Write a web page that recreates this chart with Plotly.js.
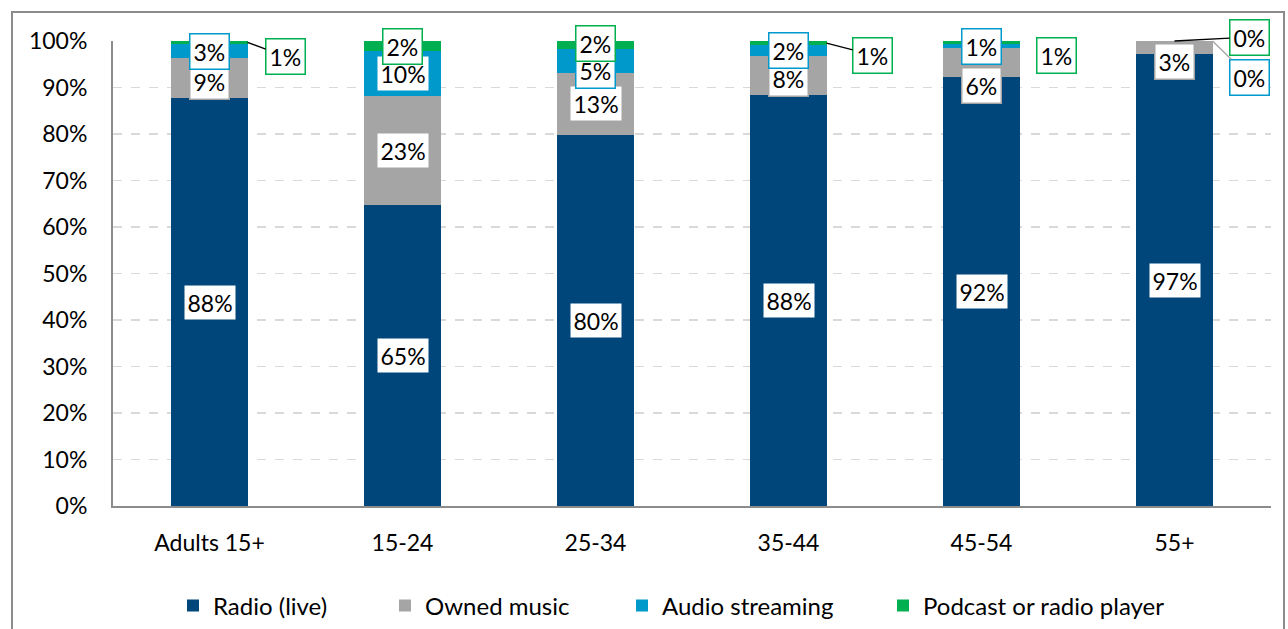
<!DOCTYPE html>
<html><head><meta charset="utf-8">
<script src="https://cdn.plot.ly/plotly-3.0.1.min.js"></script>
<style>
html,body{margin:0;padding:0;background:#fff;overflow:hidden;}
#chart{width:1288px;height:629px;}
#frame{position:absolute;left:11px;top:11px;width:1270px;height:700px;border:2px solid #8c8c8c;pointer-events:none;}
</style></head>
<body>
<div id="chart"></div>
<div id="frame"></div>
<script>
// ---- data ----
const categories = ['Adults 15+', '15-24', '25-34', '35-44', '45-54', '55+'];
const radioLive = [87.7, 64.7, 79.8, 88.3, 92.2, 97.1];
const ownedMusic = [8.6, 23.4, 13.4, 8.4, 6.2, 2.9];
const audioStreaming = [3.1, 9.7, 5.0, 2.4, 1.0, 0];
const podcastPlayer = [0.6, 2.2, 1.8, 0.9, 0.6, 0];
const seriesNames = ['Radio (live)', 'Owned music', 'Audio streaming', 'Podcast or radio player'];
const yTicks = [0, 10, 20, 30, 40, 50, 60, 70, 80, 90, 100];

// ---- styles ----
const colors = ['#00467a', '#a5a5a5', '#0099cc', '#00b050'];
const FONT = 'Lato, "Open Sans", sans-serif';
const seriesValues = [radioLive, ownedMusic, audioStreaming, podcastPlayer];
const legendLeftPx = [173, 385, 622, 883];   // left edge of each legend entry (pixels)

// label placement tweaks (pixels) : key "series-category"
const labelTweaks = {
  '1-0': {dy: -3},
  '2-2': {dy: -9},
  '3-2': {dy: 2},
  '1-3': {dy: -3},
  '1-4': {dy: -23},
  '1-5': {dy: -14},
  '3-0': {arrow: true, dx: 38, ax: 38, ay: 14},
  '3-3': {arrow: true, dx: 38, ax: 46, ay: 12},
  '3-4': {dx: 75, dy: -13},
  '3-5': {arrow: true, dx: 0, ax: 75, ay: -4},
  '2-5': {arrow: true, dx: 38, ax: 37, ay: 36, arrowColor: '#a5a5a5'}
};

const legendIds = ['legend', 'legend2', 'legend3', 'legend4'];
const traces = seriesValues.map((vals, s) => ({
  type: 'bar',
  name: seriesNames[s],
  x: categories,
  y: vals,
  legend: legendIds[s],
  marker: {color: colors[s], line: {width: 0}},
  hoverinfo: 'skip'
}));

const annotations = [];
categories.forEach((cat, c) => {
  let base = 0;
  seriesValues.forEach((vals, s) => {
    const v = vals[c];
    const center = base + v / 2;
    base += v;
    const t = labelTweaks[s + '-' + c] || {};
    const ann = {
      x: cat, y: center, xref: 'x', yref: 'y',
      text: Math.round(v) + '%',
      font: {family: FONT, size: 23, color: '#000'},
      bgcolor: '#ffffff',
      bordercolor: colors[s],
      borderwidth: 1.5,
      borderpad: 3,
      xshift: t.dx || 0,
      yshift: t.dy || 0
    };
    if (t.arrow) {
      ann.showarrow = true;
      ann.arrowhead = 0;
      ann.arrowwidth = 1.3;
      ann.arrowcolor = t.arrowColor || '#000';
      ann.standoff = 0;
      ann.ax = t.ax; ann.ay = t.ay;
    } else {
      ann.showarrow = false;
    }
    annotations.push(ann);
  });
});

const layout = {
  width: 1288, height: 629,
  margin: {l: 113, r: 17, t: 41, b: 123},
  paper_bgcolor: '#fff', plot_bgcolor: '#fff',
  barmode: 'stack',
  bargap: 0.606,
  font: {family: FONT, size: 23, color: '#000'},
  showlegend: true,
  xaxis: {type: 'category', showline: true, linecolor: '#8c8c8c', linewidth: 2,
          ticks: '', showgrid: false, ticklabelstandoff: 15, fixedrange: true, automargin: false,
          tickfont: {family: FONT, size: 23, color: '#000'}},
  yaxis: {range: [0, 100], tickvals: yTicks, ticktext: yTicks.map(v => v + '%'),
          showline: true, linecolor: '#8c8c8c', linewidth: 2, ticks: '',
          showgrid: true, gridcolor: '#d9d9d9', gridwidth: 1.2, griddash: 'dash',
          zeroline: false, ticklabelstandoff: 19, fixedrange: true, automargin: false,
          tickfont: {family: FONT, size: 23, color: '#000'}},
  annotations: annotations
};
legendIds.forEach((id, i) => {
  layout[id] = {
    orientation: 'h', xref: 'container', yref: 'container',
    x: legendLeftPx[i] / 1288, xanchor: 'left',
    y: 23 / 629, yanchor: 'middle',
    bgcolor: 'rgba(0,0,0,0)',
    font: {family: FONT, size: 24, color: '#000'}
  };
});

Plotly.newPlot('chart', traces, layout, {displayModeBar: false, staticPlot: true});
</script>
</body></html>
